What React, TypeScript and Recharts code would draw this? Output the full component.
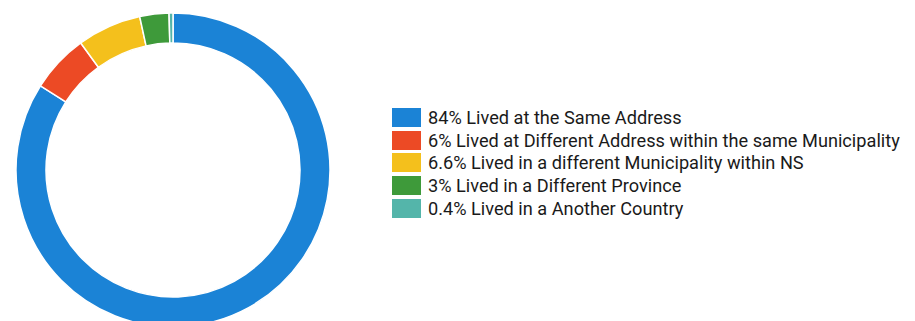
import React from 'react'
import { PieChart, Pie, Cell, Legend } from 'recharts'

const categories = [
  'Lived at the Same Address',
  'Lived at Different Address within the same Municipality',
  'Lived in a different Municipality within NS',
  'Lived in a Different Province',
  'Lived in a Another Country',
]
const shares = [84, 6, 6.6, 3, 0.4]
const colors = ['#1b83d6', '#ec4a25', '#f4c01c', '#3e9a3a', '#54b5aa']

const data = categories.map((name, i) => ({ name, value: shares[i] }))

const renderLegend = () => (
  <div style={{ display: 'flex', flexDirection: 'column' }}>
    {data.map((d, i) => (
      <div
        key={i}
        style={{ display: 'flex', alignItems: 'center', height: 22.7 }}
      >
        <div
          style={{
            width: 29,
            height: 19,
            background: colors[i],
            marginRight: 7,
            flexShrink: 0,
          }}
        />
        <span
          style={{
            fontFamily: 'Roboto',
            fontSize: 18,
            color: '#1a1a1a',
            whiteSpace: 'nowrap',
            display: 'inline-block',
            transform: 'scaleX(1.01)',
            transformOrigin: 'left center',
          }}
        >
          {`${d.value}% ${d.name}`}
        </span>
      </div>
    ))}
  </div>
)

export default function App() {
  return (
    <div style={{ position: 'absolute', left: 0, top: 0, width: 915, height: 321, background: '#fff' }}>
      <PieChart width={915} height={321}>
        <Pie
          data={data}
          dataKey='value'
          nameKey='name'
          cx={168}
          cy={165}
          innerRadius={127}
          outerRadius={157}
          startAngle={90}
          endAngle={-270}
          stroke='#fff'
          strokeWidth={1.5}
          isAnimationActive={false}
        >
          {data.map((_, i) => (
            <Cell key={i} fill={colors[i]} />
          ))}
        </Pie>
        <Legend
          content={renderLegend}
          wrapperStyle={{ position: 'absolute', left: 392, top: 106, width: 520 }}
        />
      </PieChart>
    </div>
  )
}
